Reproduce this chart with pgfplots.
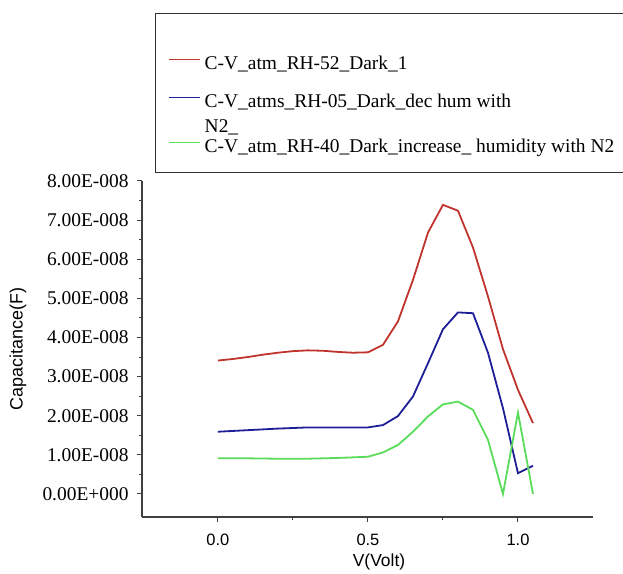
\documentclass[border=0pt]{standalone}
\usepackage{pgfplots}
\pgfplotsset{compat=1.18}
\usepackage{fontspec}
\setmainfont{Liberation Serif}
\newfontfamily\arial{Liberation Sans}
\definecolor{cred}{RGB}{192,52,45}
\definecolor{cblue}{RGB}{30,30,150}
\definecolor{cgreen}{RGB}{90,220,90}
\begin{document}
\begin{tikzpicture}
\path[use as bounding box] (-142bp,-57bp) rectangle (481bp,517bp);
\begin{axis}[
  at={(0,0)}, anchor=south west,
  scale only axis, width=451bp, height=336bp,
  xmin=-0.253, xmax=1.25, ymin=-0.59e-8, ymax=8e-8,
  axis lines*=left,
  axis line style={black!75, line width=1.2bp},
  tick align=outside,
  major tick length=5bp, minor tick length=3bp,
  tick style={black!75, line width=1bp},
  xtick={0,0.5,1}, xticklabels={0.0,0.5,1.0},
  minor xtick={0.25,0.75},
  ytick={0,1e-8,2e-8,3e-8,4e-8,5e-8,6e-8,7e-8,8e-8},
  yticklabels={0.00E+000,1.00E-008,2.00E-008,3.00E-008,4.00E-008,5.00E-008,6.00E-008,7.00E-008,8.00E-008},
  minor ytick={0.5e-8,1.5e-8,2.5e-8,3.5e-8,4.5e-8,5.5e-8,6.5e-8,7.5e-8},
  scaled y ticks=false, scaled x ticks=false,
  xticklabel style={font=\arial\fontsize{16.5}{19}\selectfont, yshift=-9bp},
  yticklabel style={font=\fontsize{19.5}{23}\selectfont, xshift=-5bp},
  xlabel={V(Volt)}, ylabel={Capacitance(F)},
  xlabel style={font=\arial\fontsize{17.5}{20}\selectfont, at={(axis description cs:0.5255,-0.135)}, anchor=center},
  ylabel style={font=\arial\fontsize{18}{21}\selectfont, at={(axis description cs:-0.275,0.5)}, anchor=center},
  legend image code/.code={\draw[#1,line width=1bp] (0bp,10bp) -- (31bp,10bp);},
  legend style={at={(axis description cs:0.029,1.5)}, anchor=north west,
    draw=black!80, line width=1.3bp, inner xsep=13bp, inner ysep=0bp,
    row sep=0bp, column sep=4bp,
    font=\fontsize{19.5}{25}\selectfont,
    nodes={inner sep=0pt, text depth=},
    cells={anchor=base west}},
]
\addplot[cred, line width=1.8bp] coordinates {
(0,3.41e-8) (0.05,3.45e-8) (0.1,3.50e-8) (0.15,3.56e-8) (0.2,3.61e-8) (0.25,3.65e-8)
(0.3,3.67e-8) (0.35,3.66e-8) (0.4,3.63e-8) (0.45,3.61e-8) (0.5,3.62e-8) (0.55,3.81e-8)
(0.6,4.41e-8) (0.65,5.47e-8) (0.7,6.68e-8) (0.75,7.39e-8) (0.8,7.24e-8) (0.85,6.30e-8)
(0.9,5.05e-8) (0.95,3.70e-8) (1.0,2.66e-8) (1.05,1.81e-8)};
\addlegendentry{\raisebox{0pt}[56bp][19bp]{C-V\_atm\_RH-52\_Dark\_1}}
\addplot[cblue, line width=1.8bp] coordinates {
(0,1.59e-8) (0.1,1.63e-8) (0.2,1.67e-8) (0.3,1.70e-8) (0.4,1.70e-8) (0.5,1.70e-8)
(0.55,1.76e-8) (0.6,1.99e-8) (0.65,2.49e-8) (0.7,3.34e-8) (0.75,4.21e-8) (0.8,4.64e-8)
(0.85,4.62e-8) (0.9,3.61e-8) (0.95,2.19e-8) (1.0,0.53e-8) (1.05,0.72e-8)};
\addlegendentry{\raisebox{0pt}[19bp][33bp]{\begin{tabular}[t]{@{}l@{}}C-V\_atms\_RH-05\_Dark\_dec hum with\\N2\_\end{tabular}}}
\addplot[cgreen, line width=1.8bp] coordinates {
(0,0.91e-8) (0.1,0.91e-8) (0.2,0.90e-8) (0.3,0.90e-8) (0.4,0.92e-8) (0.5,0.95e-8)
(0.55,1.06e-8) (0.6,1.25e-8) (0.65,1.59e-8) (0.7,1.98e-8) (0.75,2.29e-8) (0.8,2.36e-8)
(0.85,2.15e-8) (0.9,1.38e-8) (0.95,0.0) (1.0,2.08e-8) (1.05,0.0)};
\addlegendentry{\raisebox{0pt}[12bp][20bp]{C-V\_atm\_RH-40\_Dark\_increase\_ humidity with N2}}
\end{axis}
\end{tikzpicture}
\end{document}
